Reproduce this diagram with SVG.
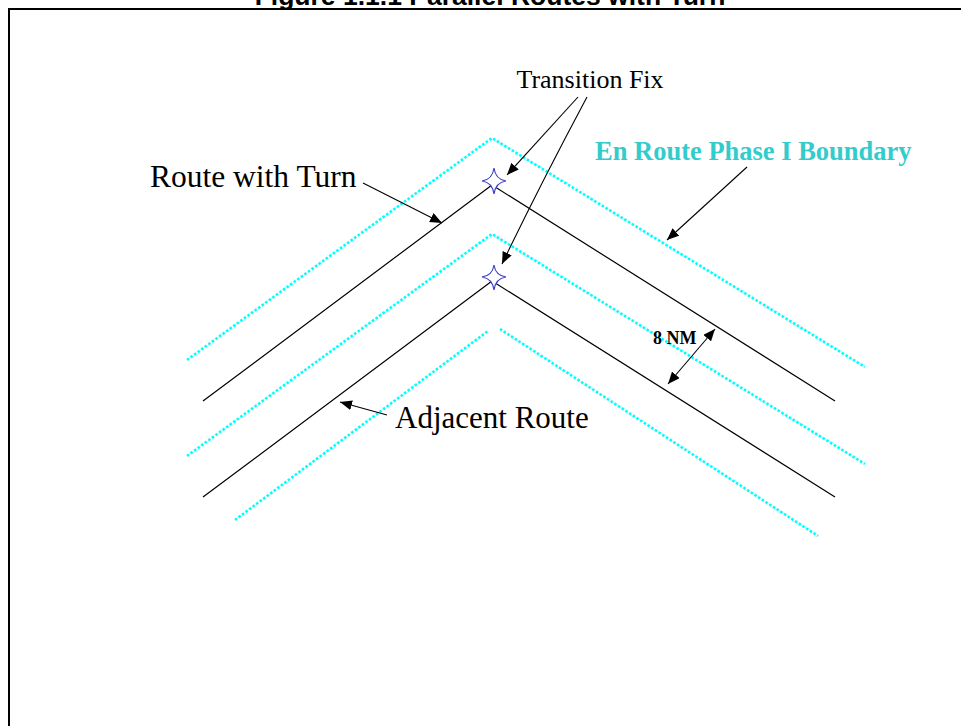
<svg xmlns="http://www.w3.org/2000/svg" width="961" height="726" viewBox="0 0 961 726">
<style>
.route{fill:none;stroke:#000;stroke-width:1.2}
.bnd{fill:none;stroke:#00ffff;stroke-width:2.6;stroke-dasharray:2.6 1.8}
.lead{fill:none;stroke:#000;stroke-width:1.1}
.star{fill:#fff;stroke:#3838c8;stroke-width:1.1}
.lbl{font-family:"Liberation Serif","Times New Roman",serif;fill:#000}
</style>
<defs>
<marker id="ah" viewBox="0 0 12 10" refX="12" refY="5" markerWidth="12" markerHeight="10" markerUnits="userSpaceOnUse" orient="auto-start-reverse">
<path d="M0,0 L12,5 L0,10 z" fill="#000"/>
</marker>
</defs>
<rect width="961" height="726" fill="#fff"/>
<text x="490" y="5" text-anchor="middle" font-family="Liberation Sans,Arial,sans-serif" font-weight="bold" font-size="26.5">Figure 1.1.1  Parallel Routes with Turn</text>
<path d="M9,726 V9 H961" fill="none" stroke="#000" stroke-width="2"/>

<g id="boundary-top"><polyline class="bnd" points="187,360 492,138 865,367"/></g>
<g id="boundary-mid"><polyline class="bnd" points="187,456 492,234 865,464"/></g>
<g id="boundary-bottom"><line class="bnd" x1="235" y1="520" x2="488" y2="331"/><line class="bnd" x1="500" y1="329" x2="818" y2="536"/></g>

<g id="route-with-turn"><polyline class="route" points="203,401 492,185 835,401"/></g>
<g id="adjacent-route"><polyline class="route" points="203,497 492,281 835,497"/></g>

<g id="fix-1"><path class="star" d="M494,168 Q495.5,179.5 506,181 Q495.5,182.5 494,194 Q492.5,182.5 482,181 Q492.5,179.5 494,168 z"/></g>
<g id="fix-2"><path class="star" d="M494,265 Q495.5,275.5 506,277 Q495.5,278.5 494,290 Q492.5,278.5 482,277 Q492.5,275.5 494,265 z"/></g>

<g id="label-transition-fix"><text class="lbl" x="590" y="88" text-anchor="middle" font-size="26">Transition Fix</text></g>
<g id="label-route-with-turn"><text class="lbl" x="150" y="187" font-size="31.5">Route with Turn</text></g>
<g id="label-boundary"><text x="595" y="160" font-family="Liberation Serif,'Times New Roman',serif" font-weight="bold" font-size="26.5" fill="#33cccc">En Route Phase I Boundary</text></g>
<g id="label-8nm"><text class="lbl" x="653" y="344" font-weight="bold" font-size="18">8 NM</text></g>
<g id="label-adjacent-route"><text class="lbl" x="395" y="428" font-size="31">Adjacent Route</text></g>

<g id="connectors">
<line class="lead" x1="578" y1="97" x2="507" y2="175" marker-end="url(#ah)"/>
<path class="lead" d="M587,97 Q540,185 502,264" marker-end="url(#ah)"/>
<line class="lead" x1="363" y1="183" x2="442" y2="223" marker-end="url(#ah)"/>
<line class="lead" x1="747" y1="167" x2="667" y2="240" marker-end="url(#ah)"/>
<line class="lead" x1="715" y1="329" x2="668" y2="384" marker-start="url(#ah)" marker-end="url(#ah)"/>
<line class="lead" x1="387" y1="415" x2="340" y2="402" marker-end="url(#ah)"/>
</g>
</svg>
